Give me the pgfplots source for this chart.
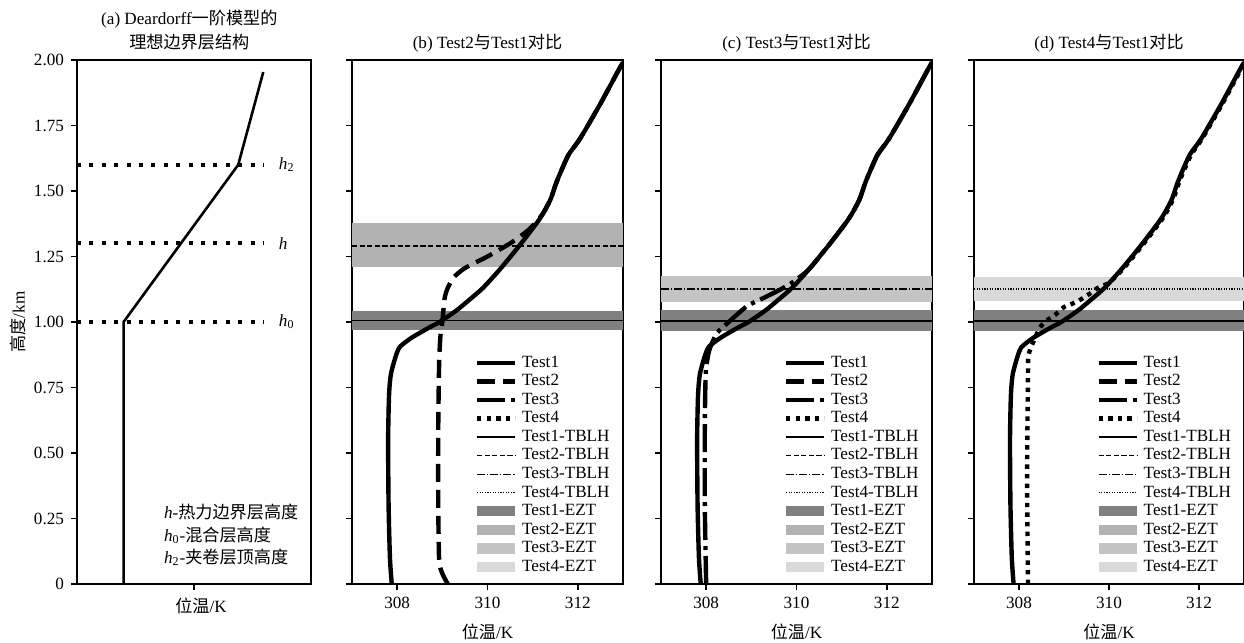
\documentclass[border=0pt]{standalone}
\usepackage{fontspec}
\setmainfont{Liberation Serif}
\newfontfamily\cjk{Noto Sans CJK SC}
\usepackage{pgfplots}
\usepackage{pgfplotstable}
\pgfplotsset{compat=1.18}

\definecolor{ezta}{gray}{0.50}
\definecolor{eztb}{gray}{0.70}
\definecolor{eztc}{gray}{0.77}
\definecolor{eztd}{gray}{0.85}

% potential temperature (K) vs height (km)
\pgfplotstableread{
x y
307.88 0.00
307.84 0.10
307.81 0.30
307.80 0.55
307.82 0.72
307.86 0.80
307.97 0.87
308.06 0.905
308.32 0.94
308.72 0.98
308.94 1.00
309.32 1.045
309.60 1.085
309.90 1.13
310.27 1.20
310.70 1.29
311.10 1.38
311.25 1.42
311.40 1.47
311.52 1.53
311.64 1.58
311.80 1.64
312.05 1.70
312.49 1.83
312.93 1.97
313.00 1.99
}\testone

\pgfplotstableread{
x y
309.12 0.00
309.00 0.04
308.93 0.09
308.91 0.30
308.91 0.60
308.93 0.85
308.96 0.95
309.00 1.00
309.05 1.09
309.12 1.13
309.25 1.17
309.45 1.20
309.65 1.22
310.00 1.25
310.50 1.30
310.90 1.35
311.12 1.39
311.25 1.42
311.40 1.47
311.52 1.53
311.64 1.58
311.80 1.64
312.05 1.70
312.49 1.83
312.93 1.97
313.00 1.99
}\testtwo

\pgfplotstableread{
x y
308.00 0.00
307.97 0.30
307.97 0.60
307.99 0.80
308.05 0.88
308.13 0.92
308.25 0.96
308.50 1.00
308.90 1.06
309.25 1.09
309.60 1.12
309.90 1.15
310.27 1.20
310.70 1.29
311.10 1.38
311.25 1.42
311.40 1.47
311.52 1.53
311.64 1.58
311.80 1.64
312.05 1.70
312.49 1.83
312.93 1.97
313.00 1.99
}\testthree

\pgfplotstableread{
x y
308.20 0.00
308.18 0.40
308.20 0.80
308.22 0.88
308.44 0.97
308.57 1.00
308.80 1.027
309.00 1.057
309.27 1.076
309.53 1.103
309.75 1.13
310.00 1.15
310.30 1.20
310.73 1.29
311.13 1.38
311.28 1.42
311.43 1.47
311.55 1.53
311.67 1.58
311.83 1.64
312.07 1.70
312.51 1.83
312.95 1.97
313.00 1.98
}\testfour

\tikzset{
  t1/.style={line width=2.2bp},
  t2/.style={line width=2.2bp, dash pattern=on 9bp off 4bp},
  t3/.style={line width=2.2bp, dash pattern=on 14bp off 3bp on 2bp off 3bp},
  t4/.style={line width=2.2bp, dash pattern=on 2.2bp off 2.6bp},
  l1/.style={line width=0.6bp},
  l2/.style={line width=0.6bp, dash pattern=on 2.6bp off 1.2bp},
  l3/.style={line width=0.6bp, dash pattern=on 4bp off 1bp on 0.6bp off 1bp},
  l4/.style={line width=0.6bp, dash pattern=on 0.6bp off 0.7bp},
}

\pgfplotsset{
  base/.style={
    scale only axis, height=262bp, ymin=0, ymax=2,
    ytick={0,0.25,0.5,0.75,1,1.25,1.5,1.75,2},
    tick align=outside, tick pos=left, major tick length=3bp,
    tick style={black, line width=0.8bp},
    axis line style={line width=0.9bp},
    font=\fontsize{8.6}{10}\selectfont,
    /pgf/number format/assume math mode=true,
  },
  panel/.style={
    base, width=135.5bp,
    xmin=307, xmax=313, xtick={308,310,312}, yticklabels={},
    xlabel={{\cjk 位温}/K},
    xlabel style={at={(axis description cs:0.5,0)}, anchor=center, yshift=-24bp},
    title style={at={(axis description cs:0.5,1)}, anchor=center, yshift=2.5bp},
    legend cell align=left,
    legend style={draw=none, fill=none, at={(0.452,0.4406)}, anchor=north west,
      inner sep=0pt, row sep=0pt,
      nodes={inner xsep=2.25bp, inner ysep=0pt, text height=6.8bp, text depth=2.48bp}},
    legend image code/.code={\draw[##1] (0bp,0bp) -- (19.2bp,0bp);},
  },
  ezt legend/.style={legend image code/.code={\fill[##1] (0bp,-2.6bp) rectangle (19.2bp,2.6bp);}},
}

\newcommand\legendall{%
  \addlegendimage{t1}\addlegendentry{Test1}
  \addlegendimage{t2}\addlegendentry{Test2}
  \addlegendimage{t3}\addlegendentry{Test3}
  \addlegendimage{t4}\addlegendentry{Test4}
  \addlegendimage{l1}\addlegendentry{Test1-TBLH}
  \addlegendimage{l2}\addlegendentry{Test2-TBLH}
  \addlegendimage{l3}\addlegendentry{Test3-TBLH}
  \addlegendimage{l4}\addlegendentry{Test4-TBLH}
  \addlegendimage{ezt legend, fill=ezta, draw=none}\addlegendentry{Test1-EZT}
  \addlegendimage{ezt legend, fill=eztb, draw=none}\addlegendentry{Test2-EZT}
  \addlegendimage{ezt legend, fill=eztc, draw=none}\addlegendentry{Test3-EZT}
  \addlegendimage{ezt legend, fill=eztd, draw=none}\addlegendentry{Test4-EZT}
}

\begin{document}
\begin{tikzpicture}
% (a)
\begin{axis}[base, width=117bp, at={(0bp,0bp)},
  xmin=0, xmax=1, xtick={0.5}, xticklabels={},
  yticklabels={0,0.25,0.50,0.75,1.00,1.25,1.50,1.75,2.00},
  ylabel={{\cjk 高度}/km},
  ylabel style={at={(axis description cs:-0.252,0.5)}, anchor=center},
  xlabel={{\cjk 位温}/K},
  xlabel style={at={(axis description cs:0.53,0)}, anchor=center, yshift=-11bp},
  title={(a) Deardorff{\cjk 一阶模型的}\\{\cjk 理想边界层结构}},
  title style={align=center, font=\fontsize{8.6}{12}\selectfont,
    at={(axis description cs:0.48,1)}, anchor=center, yshift=9bp},
]
\addplot[line width=2bp, dash pattern=on 2bp off 4.2bp] coordinates {(0,1.0) (0.796,1.0)};
\addplot[line width=2bp, dash pattern=on 2bp off 4.2bp] coordinates {(0,1.3) (0.796,1.3)};
\addplot[line width=2bp, dash pattern=on 2bp off 4.2bp] coordinates {(0,1.6) (0.796,1.6)};
\addplot[line width=1.3bp] coordinates {(0.199,0) (0.199,1.0) (0.689,1.6) (0.796,1.954)};
\node[anchor=west] at (axis cs:0.833,1.0) {\textit{h}\textsubscript{0}};
\node[anchor=west] at (axis cs:0.833,1.3) {\textit{h}};
\node[anchor=west] at (axis cs:0.833,1.6) {\textit{h}\textsubscript{2}};
\node[anchor=west] at (axis cs:0.342,0.275) {\textit{h}-{\cjk 热力边界层高度}};
\node[anchor=west] at (axis cs:0.342,0.187) {\textit{h}\textsubscript{0}-{\cjk 混合层高度}};
\node[anchor=west] at (axis cs:0.342,0.103) {\textit{h}\textsubscript{2}-{\cjk 夹卷层顶高度}};
\end{axis}

% (b)
\begin{axis}[panel, at={(137.5bp,0bp)}, title={(b) Test2{\cjk 与}Test1{\cjk 对比}}]
\addplot[draw=none, fill=eztb, forget plot] coordinates {(307,1.21) (313,1.21) (313,1.378) (307,1.378)};
\addplot[draw=none, fill=ezta, forget plot] coordinates {(307,0.969) (313,0.969) (313,1.042) (307,1.042)};
\addplot[l1, forget plot] coordinates {(307,1.005) (313,1.005)};
\addplot[l2, forget plot] coordinates {(307,1.29) (313,1.29)};
\addplot[t2, smooth, tension=0.4, forget plot] table[x=x,y=y] {\testtwo};
\addplot[t1, smooth, tension=0.4, forget plot] table[x=x,y=y] {\testone};
\legendall
\end{axis}

% (c)
\begin{axis}[panel, at={(292bp,0bp)}, title={(c) Test3{\cjk 与}Test1{\cjk 对比}}]
\addplot[draw=none, fill=eztc, forget plot] coordinates {(307,1.076) (313,1.076) (313,1.176) (307,1.176)};
\addplot[draw=none, fill=ezta, forget plot] coordinates {(307,0.966) (313,0.966) (313,1.046) (307,1.046)};
\addplot[l1, forget plot] coordinates {(307,1.004) (313,1.004)};
\addplot[l3, forget plot] coordinates {(307,1.126) (313,1.126)};
\addplot[t3, smooth, tension=0.4, forget plot] table[x=x,y=y] {\testthree};
\addplot[t1, smooth, tension=0.4, forget plot] table[x=x,y=y] {\testone};
\legendall
\end{axis}

% (d)
\begin{axis}[panel, width=135bp, at={(448.5bp,0bp)}, title={(d) Test4{\cjk 与}Test1{\cjk 对比}}]
\addplot[draw=none, fill=eztd, forget plot] coordinates {(307,1.08) (313,1.08) (313,1.172) (307,1.172)};
\addplot[draw=none, fill=ezta, forget plot] coordinates {(307,0.966) (313,0.966) (313,1.046) (307,1.046)};
\addplot[l1, forget plot] coordinates {(307,1.004) (313,1.004)};
\addplot[l4, forget plot] coordinates {(307,1.126) (313,1.126)};
\addplot[t1, smooth, tension=0.4, forget plot] table[x=x,y=y] {\testone};
\addplot[t4, smooth, tension=0.4, forget plot] table[x=x,y=y] {\testfour};
\legendall
\end{axis}

\pgfresetboundingbox
\path[use as bounding box] (-38.5bp,-29.5bp) rectangle (583.5bp,292bp);
\end{tikzpicture}
\end{document}
